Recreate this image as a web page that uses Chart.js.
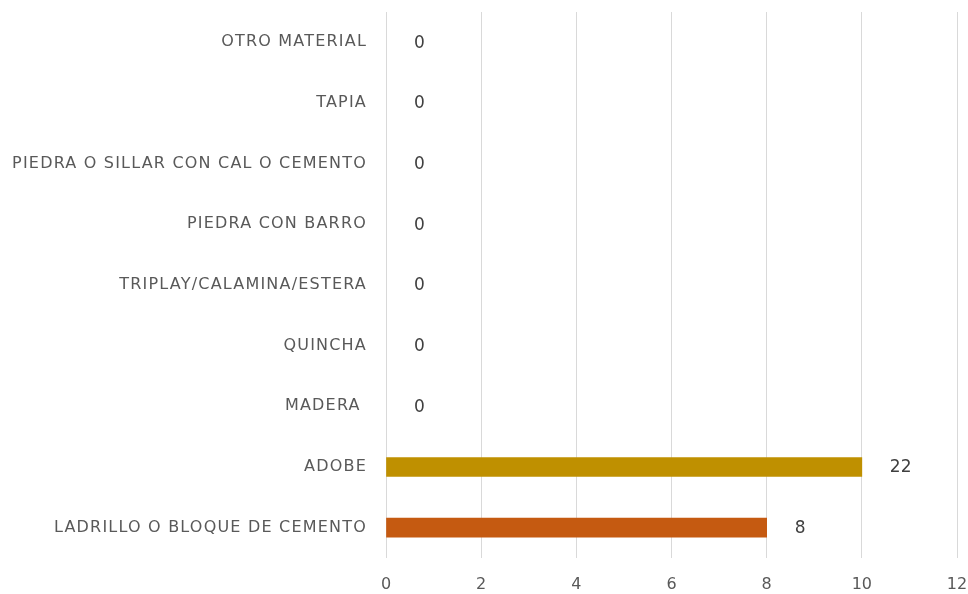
<!DOCTYPE html>
<html>
<head>
<meta charset="utf-8">
<script src="https://cdn.jsdelivr.net/npm/chart.js@4/dist/chart.umd.min.js"></script>
<style>
html,body{margin:0;padding:0;background:#fff;}
#wrap{width:968px;height:594px;position:relative;}
</style>
</head>
<body>
<div id="wrap"><canvas id="c" width="968" height="594"></canvas></div>
<script>
const categories = ["OTRO MATERIAL","TAPIA","PIEDRA O SILLAR CON CAL O CEMENTO","PIEDRA CON BARRO","TRIPLAY/CALAMINA/ESTERA","QUINCHA","MADERA ","ADOBE","LADRILLO O BLOQUE DE CEMENTO"];
const values = [0,0,0,0,0,0,0,10,8];
const valueLabels = ["0","0","0","0","0","0","0","22","8"];
const barColors = ["#BF9000","#BF9000","#BF9000","#BF9000","#BF9000","#BF9000","#BF9000","#BF9000","#C55A11"];
const xTicks = [0,2,4,6,8,10,12];

const FONT = "'DejaVu Sans', sans-serif";

const labelPlugin = {
  id: 'valLabels',
  afterLayout(chart) {
    const ys = chart.scales.y;
    if (ys && !ys._spacedPatch) {
      const orig = ys.drawLabels;
      ys.drawLabels = function (area) {
        const ctx = this.ctx;
        ctx.save();
        ctx.letterSpacing = '1.2px';
        orig.call(this, area);
        ctx.restore();
      };
      ys._spacedPatch = true;
    }
  },
  afterDatasetsDraw(chart) {
    const ctx = chart.ctx;
    const meta = chart.getDatasetMeta(0);
    const xs = chart.scales.x;
    ctx.save();
    ctx.font = "17px " + FONT;
    ctx.fillStyle = "#404040";
    ctx.textAlign = "left";
    ctx.textBaseline = "middle";
    meta.data.forEach((bar, i) => {
      const x = xs.getPixelForValue(values[i]);
      ctx.fillText(valueLabels[i], x + 28, bar.y + 1);
    });
    ctx.restore();
  }
};

new Chart(document.getElementById('c'), {
  type: 'bar',
  data: {
    labels: categories,
    datasets: [{
      data: values,
      backgroundColor: (c) => values[c.dataIndex] ? barColors[c.dataIndex] : 'rgba(0,0,0,0)',
      borderWidth: 0,
      barThickness: 19
    }]
  },
  options: {
    indexAxis: 'y',
    responsive: false,
    animation: false,
    layout: { padding: { top: 12, right: 11, bottom: 0, left: 0 } },
    plugins: { legend: { display: false }, tooltip: { enabled: false } },
    scales: {
      x: {
        min: 0, max: 12,
        afterBuildTicks(scale) { scale.ticks = xTicks.map(v => ({ value: v })); },
        afterFit(scale) { scale.height = 36; scale.paddingLeft = 0; scale.paddingRight = 0; },
        grid: { color: "#d9d9d9", lineWidth: 1, drawTicks: false },
        border: { display: false },
        ticks: { color: "#595959", font: { family: FONT, size: 16 }, padding: 17 }
      },
      y: {
        afterFit(scale) { scale.width = 386; scale.paddingTop = 0; scale.paddingBottom = 0; },
        grid: { display: false, drawTicks: false },
        border: { display: false },
        ticks: { color: "#595959", font: { family: FONT, size: 16 }, padding: 19 }
      }
    }
  },
  plugins: [labelPlugin]
});
</script>
</body>
</html>
